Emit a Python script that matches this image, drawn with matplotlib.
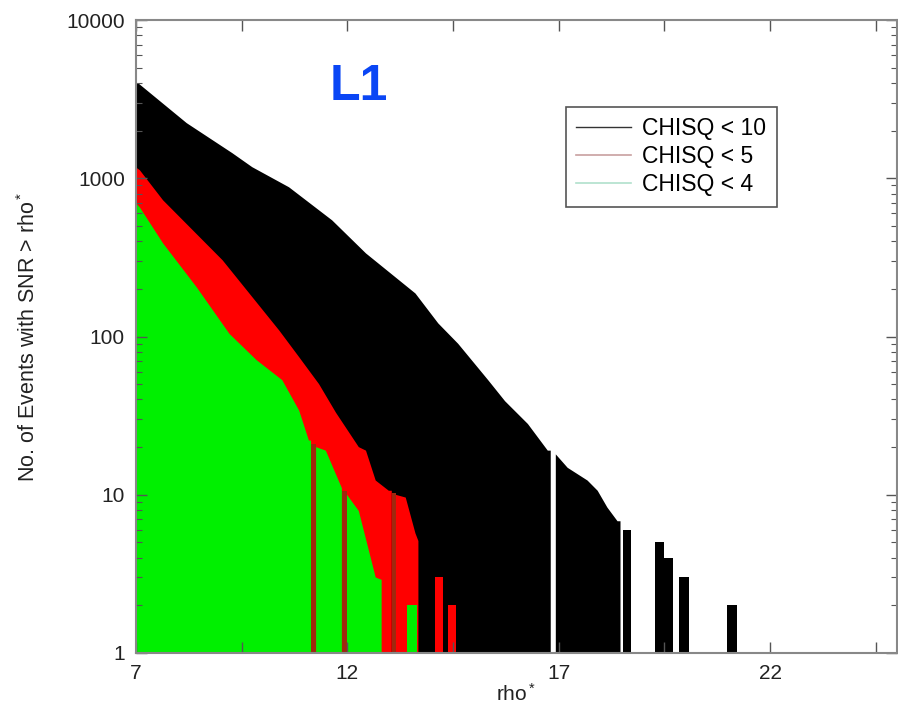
import numpy as np
import matplotlib.pyplot as plt

plt.rcParams['font.family'] = ['Liberation Sans', 'DejaVu Sans']
plt.rcParams['mathtext.fontset'] = 'custom'
plt.rcParams['mathtext.rm'] = 'Liberation Sans'
plt.rcParams['mathtext.it'] = 'Liberation Sans'

nan = np.nan

# cumulative counts N(SNR > rho*); nan splits separate blocks
black_rho = [7.0, 7.05, 8.2, 9.28, 9.75, 10.62, 11.64, 12.44, 13.61, 14.15, 14.62,
             15.33, 15.73, 16.27, 16.74, 16.81, nan,
             16.93, 17.21, 17.68, 17.92, 18.15, 18.39, 18.46, nan,
             18.53, 18.72, nan, 19.28, 19.49, 19.49, 19.71, nan,
             19.85, 20.08, nan, 20.98, 21.21]
black_n = [4000, 3990, 2230, 1440, 1175, 877, 542, 335, 187, 121, 90,
           53, 39, 28, 19, 19, nan,
           18, 14.8, 12.3, 10.6, 8.3, 6.8, 6.8, nan,
           6, 6, nan, 5, 5, 4, 4, nan,
           3, 3, nan, 2, 2]

red_rho = [7.0, 7.09, 7.64, 9.05, 10.39, 10.86, 11.33, 11.73, 12.27, 12.44,
           12.67, 12.98, 13.05, nan,
           13.14, 13.38, 13.61, 13.68, nan,
           14.08, 14.27, nan, 14.39, 14.58]
red_n = [1170, 1125, 726, 303, 109, 74, 50, 33, 20, 19,
         12.3, 10.6, 10.6, nan,
         10, 9.6, 5.7, 5.1, nan,
         3, 3, nan, 2, 2]

green_rho = [7.0, 7.09, 7.64, 8.44, 9.21, 9.85, 10.46, 10.86, 11.09, 11.14, nan,
             11.26, 11.49, 11.87, nan,
             11.99, 12.27, 12.67, 12.81, nan,
             13.40, 13.64]
green_n = [695, 655, 388, 204, 104, 71, 53, 34, 22, 22, nan,
           20, 19, 11, nan,
           10, 7.9, 3, 2.9, nan,
           2, 2]

# empty bins that show up as dark lines
gap_rho = [11.14, 11.87, 13.05]
gap_width = [0.12, 0.12, 0.09]
gap_n = [21, 10.5, 10.3]

labels = ['CHISQ < 10', 'CHISQ < 5', 'CHISQ < 4']

fig = plt.figure(figsize=(8.98, 7.13), dpi=100)
ax = fig.add_axes([136 / 898, 60 / 713, 761 / 898, 633 / 713])
ax.set_yscale('log')

ax.fill_between(black_rho, 1, black_n, color='black', linewidth=0)
ax.fill_between(red_rho, 1, red_n, color='#ff0000', linewidth=0)
ax.fill_between(green_rho, 1, green_n, color='#00f000', linewidth=0)
ax.bar(gap_rho, gap_n, width=gap_width, align='edge', color='#a0280e', linewidth=0)

# legend uses thin faded lines like the original
ax.plot([], [], color='#333333', lw=1, label=labels[0])
ax.plot([], [], color='#c8a0a0', lw=1.2, label=labels[1])
ax.plot([], [], color='#b0e0cc', lw=1.2, label=labels[2])
leg = ax.legend(loc='upper left', bbox_to_anchor=(0.5645, 0.8626), fontsize=16.5,
                fancybox=False, framealpha=1, edgecolor='#555555',
                handlelength=2.4, handletextpad=0.5, labelspacing=0.22,
                borderpad=0.45, borderaxespad=0)
leg.get_frame().set_linewidth(1.2)

ax.set_xlim(7, 25)
ax.set_ylim(1, 10000)
ax.set_xticks([7, 12, 17, 22])
ax.set_xticks([9.5, 14.5, 19.5, 24.5], minor=True)
ax.set_yticks([1, 10, 100, 1000, 10000], labels=['1', '10', '100', '1000', '10000'])

ax.tick_params(which='both', direction='in', top=True, right=True,
               colors='#555555', labelcolor='#222222', labelsize=15)
ax.tick_params(axis='x', which='both', length=8, width=1, pad=8)
ax.tick_params(axis='y', which='major', length=8, width=1, pad=8)
ax.tick_params(axis='y', which='minor', length=4, width=0.8)
for sp in ax.spines.values():
    sp.set_color('#888888')
    sp.set_linewidth(1.5)

ax.set_xlabel('rho$^*$', fontsize=15, color='#222222', labelpad=0)
ax.set_ylabel('No. of Events with SNR > rho$^*$', fontsize=15.5, color='#222222', labelpad=19)

ax.text(0.293, 0.894, 'L1', transform=ax.transAxes, fontsize=36, fontweight='bold',
        color='#0a46f5', ha='center', va='center')

fig.savefig('out.png', dpi=100)
